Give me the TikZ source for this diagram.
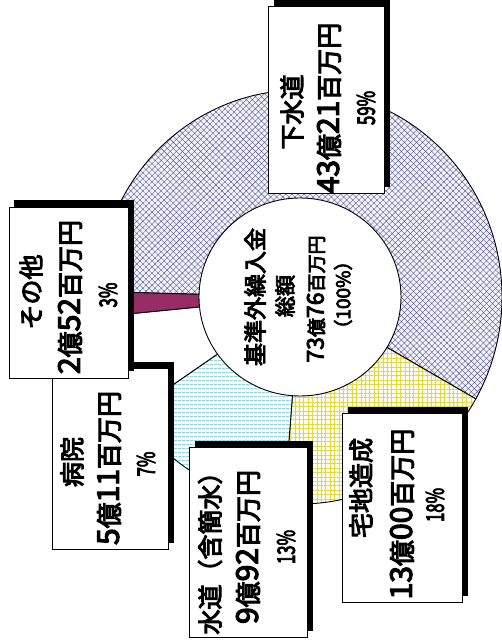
\documentclass[tikz,border=0pt]{standalone}
\usepackage{fontspec}
\usepackage{graphicx}
\newfontfamily\jp{Noto Sans CJK JP}[FakeBold=4]
\usetikzlibrary{patterns.meta}
\definecolor{hatchblue}{RGB}{85,85,145}
\definecolor{lavbase}{RGB}{242,242,250}
\definecolor{gridyellow}{RGB}{228,215,70}
\definecolor{ylbase}{RGB}{255,255,238}
\definecolor{cyanline}{RGB}{80,190,220}
\definecolor{plum}{RGB}{150,45,100}
\newcommand\fs[1]{\fontsize{#1}{#1}\selectfont}
\newcommand\pieslice[3]{%
  \path[#3] (0,0) -- (#1:202pt and 207pt) arc[start angle=#1, end angle=#2, x radius=202pt, y radius=207pt] -- cycle;}
\newcommand\pct[1]{\scalebox{0.7}[1]{#1}}
\newcommand\dg[1]{{\fs{30}#1}}
\newcommand\dgs[1]{{\fs{23}#1}}
\begin{document}
\begin{tikzpicture}[x=1pt,y=1pt,
  txt/.style={rotate=90, inner sep=0pt, text=black, font=\jp},
  outline/.style={draw=black, line width=0.9pt},
  boxw/.style={fill=white, draw=black, line width=0.8pt}]
\useasboundingbox (0,0) rectangle (502,644);
\fill[white] (0,0) rectangle (502,644);
% pie
\begin{scope}[shift={(300,347)}]
  % sewer
  \pieslice{178.5}{-29.5}{fill=lavbase}
  \pieslice{178.5}{-29.5}{pattern={Hatch[angle=45,distance=4.3pt,line width=0.38pt]}, pattern color=hatchblue}
  \pieslice{178.5}{-29.5}{outline}
  % housing land
  \pieslice{-29.5}{-94.5}{fill=ylbase}
  \pieslice{-29.5}{-94.5}{pattern={Hatch[angle=0,distance=4.4pt,line width=0.55pt]}, pattern color=gridyellow}
  \pieslice{-29.5}{-94.5}{outline}
  % water
  \pieslice{-94.5}{-146}{fill=white}
  \pieslice{-94.5}{-146}{pattern={Lines[angle=0,distance=4pt,line width=0.8pt]}, pattern color=cyanline}
  \pieslice{-94.5}{-146}{outline}
  % hospital
  \pieslice{-146}{-174.5}{fill=white}
  \pieslice{-146}{-174.5}{outline}
  % other
  \pieslice{-174.5}{-181.5}{fill=plum}
  \pieslice{-174.5}{-181.5}{outline}
\end{scope}
% center disc
\draw[fill=white, line width=0.9pt] (300,347) ellipse [x radius=101pt, y radius=99pt];
\node[txt, font=\jp\fs{23}] (c1) at (255,347) {基準外繰入金};
\node[txt, font=\jp\fs{21}] (c2) at (285,348) {総額};
\node[txt, font=\jp\fs{19}] (c3) at (316,345) {\dgs{73}億\dgs{76}百万円};
\node[txt, font=\jp\fs{19}] (c4) at (343,349) {（100\%）};
% box: sewer
\fill[black] (274,457) rectangle (390,644);
\draw[boxw] (268,451) rectangle (384,638);
\node[txt, font=\jp\fs{25}] (s1) at (292,532) {下水道};
\node[txt, font=\jp\fs{26}] (s2) at (329,536) {\dg{43}億\dg{21}百万円};
\node[txt, font=\jp\fs{24}] (s3) at (366,536) {\pct{59\%}};
% box: housing land
\fill[black] (348,48) rectangle (468,237);
\draw[boxw] (342,42) rectangle (462,231);
\node[txt, font=\jp\fs{25}] (t1) at (361,156) {宅地造成};
\node[txt, font=\jp\fs{26}] (t2) at (402,130) {\dg{13}億\dg{00}百万円};
\node[txt, font=\jp\fs{24}] (t3) at (435,139) {\pct{18\%}};
% box: water
\fill[black] (195,13) rectangle (313,203);
\draw[boxw] (189,7) rectangle (307,197);
\node[txt, font=\jp\fs{25}] (w1) at (210,97) {水道（含簡水）};
\node[txt, font=\jp\fs{26}] (w2) at (248,97) {\dg{9}億\dg{92}百万円};
\node[txt, font=\jp\fs{24}] (w3) at (286,97) {\pct{13\%}};
% box: hospital
\fill[black] (58,101) rectangle (174,282);
\draw[boxw] (52,95) rectangle (168,276);
\node[txt, font=\jp\fs{25}] (h1) at (72,182) {病院};
\node[txt, font=\jp\fs{26}] (h2) at (109,176) {\dg{5}億\dg{11}百万円};
\node[txt, font=\jp\fs{24}] (h3) at (146,180) {\pct{7\%}};
% box: other
\fill[black] (14,273) rectangle (134,444);
\draw[boxw] (9,266) rectangle (128,437);
\node[txt, font=\jp\fs{25}] (o1) at (31,352) {その他};
\node[txt, font=\jp\fs{26}] (o2) at (70,347) {\dg{2}億\dg{52}百万円};
\node[txt, font=\jp\fs{24}] (o3) at (108,349) {\pct{3\%}};
\end{tikzpicture}
\end{document}
